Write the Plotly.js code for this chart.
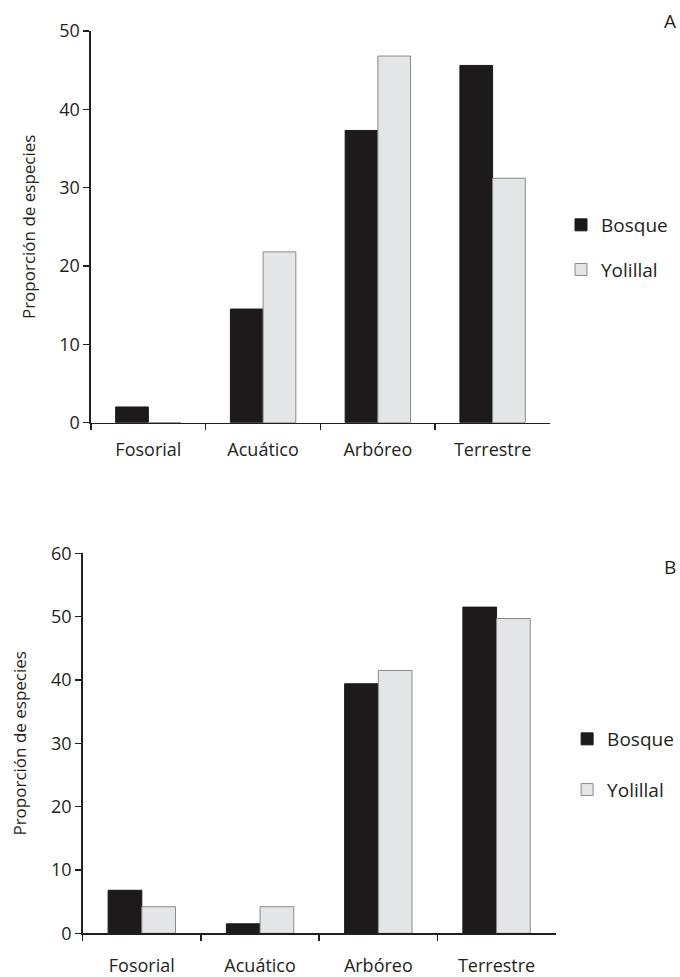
<!DOCTYPE html>
<html>
<head>
<meta charset="utf-8">
<script src="https://cdn.plot.ly/plotly-3.0.1.min.js"></script>
<style>html,body{margin:0;padding:0;background:#fff;}#chart{width:680px;height:977px;}</style>
</head>
<body>
<div id="chart"></div>
<script>
const categories = ["Fosorial", "Acuático", "Arbóreo", "Terrestre"];
const bosqueA = [2.0, 14.5, 37.3, 45.6];
const yolillalA = [0, 21.8, 46.8, 31.2];
const bosqueB = [6.8, 1.5, 39.4, 51.5];
const yolillalB = [4.2, 4.2, 41.5, 49.7];
const seriesNames = ["Bosque", "Yolillal"];
const yTitle = "Proporción de especies";
const panelLabels = ["A", "B"];

const FONT = "Open Sans, Noto Sans, sans-serif";
const TXT = "#231f20";
const darkCol = "#1c1a1b";
const lightCol = "#e4e5e7";
const edgeCol = "#8a8a8a";

function bar(name, y, xa, ya, lg, group, dark) {
  return {
    type: "bar", name: name, x: categories, y: y, xaxis: xa, yaxis: ya,
    legend: lg, legendgroup: group,
    marker: {color: dark ? darkCol : lightCol, line: {color: dark ? darkCol : edgeCol, width: 1}},
    hoverinfo: "skip"
  };
}

const data = [
  bar(seriesNames[0], bosqueA, "x", "y", "legend", "a1", true),
  bar(seriesNames[1], yolillalA, "x", "y", "legend", "a2", false),
  bar(seriesNames[0], bosqueB, "x2", "y2", "legend2", "b1", true),
  bar(seriesNames[1], yolillalB, "x2", "y2", "legend2", "b2", false)
];

const axCommon = {
  showgrid: false, zeroline: false, showline: true, linecolor: TXT, linewidth: 1.5,
  ticks: "outside", ticklen: 6, tickwidth: 1.5, tickcolor: TXT,
  tickfont: {family: FONT, size: 18, color: TXT}
};

const layout = {
  width: 680, height: 977,
  margin: {l: 0, r: 0, t: 0, b: 0},
  paper_bgcolor: "#fff", plot_bgcolor: "#fff",
  font: {family: FONT, color: TXT, size: 18},
  barmode: "group", bargap: 0.43, bargroupgap: 0,
  showlegend: true,
  xaxis: Object.assign({}, axCommon, {domain: [0.1338, 0.8088], anchor: "y", tickson: "boundaries", type: "category", ticklabelstandoff: 10}),
  yaxis: Object.assign({}, axCommon, {domain: [0.5674, 0.9683], anchor: "x", range: [0, 50], dtick: 10,
    title: {text: yTitle, font: {family: FONT, size: 17, color: TXT}, standoff: 19}}),
  xaxis2: Object.assign({}, axCommon, {domain: [0.1216, 0.8172], anchor: "y2", tickson: "boundaries", type: "category", ticklabelstandoff: 16}),
  yaxis2: Object.assign({}, axCommon, {domain: [0.0447, 0.4337], anchor: "x2", range: [0, 60], dtick: 10,
    title: {text: yTitle, font: {family: FONT, size: 17, color: TXT}, standoff: 20}}),
  legend: {x: 0.825, xanchor: "left", y: 0.7467, yanchor: "middle", traceorder: "grouped", tracegroupgap: 17,
    font: {family: FONT, size: 19, color: TXT}, bgcolor: "rgba(0,0,0,0)", itemwidth: 30},
  legend2: {x: 0.834, xanchor: "left", y: 0.2175, yanchor: "middle", traceorder: "grouped", tracegroupgap: 23,
    font: {family: FONT, size: 19, color: TXT}, bgcolor: "rgba(0,0,0,0)", itemwidth: 30},
  annotations: [
    {text: panelLabels[0], xref: "paper", yref: "paper", x: 0.997, y: 0.979, xanchor: "right", yanchor: "middle", showarrow: false, font: {family: FONT, size: 19, color: TXT}},
    {text: panelLabels[1], xref: "paper", yref: "paper", x: 0.997, y: 0.4195, xanchor: "right", yanchor: "middle", showarrow: false, font: {family: FONT, size: 19, color: TXT}}
  ]
};

Plotly.newPlot("chart", data, layout, {displayModeBar: false, staticPlot: true});
</script>
</body>
</html>
